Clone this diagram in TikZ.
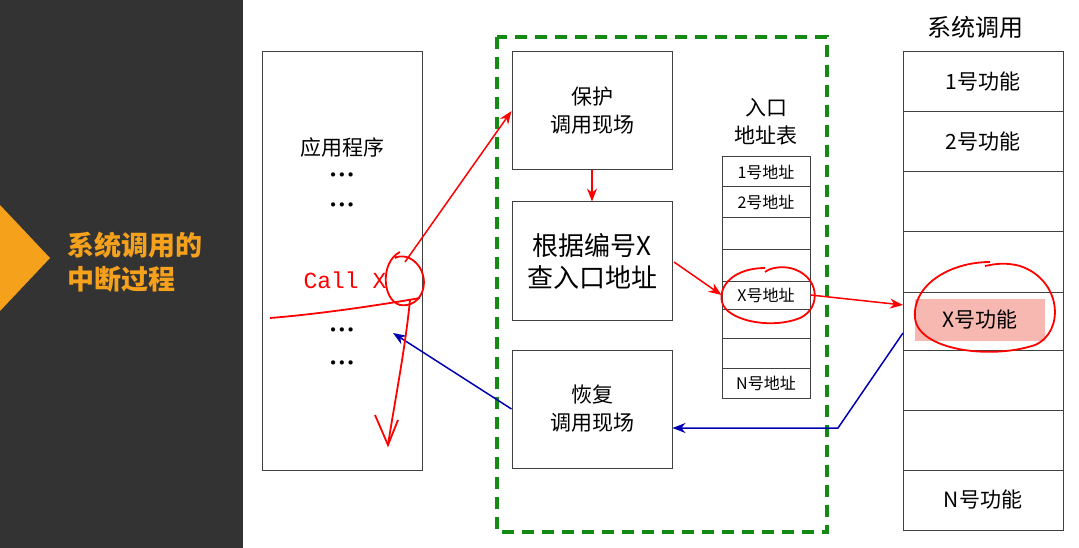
\documentclass[tikz,border=0pt]{standalone}
\usepackage{fontspec}
\setmainfont{Liberation Serif}
\newfontfamily\cjk{Noto Sans CJK SC}
\newfontfamily\mono{Liberation Mono}
\usetikzlibrary{arrows.meta}
\definecolor{darkbg}{HTML}{333333}
\definecolor{orng}{HTML}{F5A11C}
\definecolor{gdash}{HTML}{138A13}
\definecolor{pinkhl}{HTML}{F6B8B0}
\tikzset{
 bx/.style={draw=black!75,line width=1pt,fill=white},
 lbl/.style={font=\cjk\fontsize{21}{28}\selectfont,align=center},
 slbl/.style={font=\cjk\fontsize{16}{19}\selectfont},
 redar/.style={draw=red,line width=1.5pt,-{Stealth[length=13pt,width=10pt]}},
 bluar/.style={draw=blue!70!black,line width=1.5pt,-{Stealth[length=13pt,width=10pt]}},
 hand/.style={draw=red,line width=1.8pt},
 dots/.style={font=\fontsize{26}{26}\selectfont\bfseries},
}
\begin{document}
\begin{tikzpicture}[x=1pt,y=-1pt]
\useasboundingbox (0,0) rectangle (1079,548);
\fill[darkbg] (0,0) rectangle (243,548);
\fill[orng] (0,205) -- (50,258) -- (0,311) -- cycle;
\node[font=\cjk\bfseries\fontsize{27}{34}\selectfont,text=orng,align=left,anchor=west] (title) at (64,262) {系统调用的\\中断过程};
% app
\node[bx,minimum width=160pt,minimum height=418pt] (app) at (342,261) {};
\node[lbl] (appt) at (342,148) {应用程序};
\node[dots] (d1) at (342,178) {···};
\node[dots] (d2) at (342,208) {···};
\node[font=\mono\fontsize{23}{26}\selectfont,text=red] (call) at (345,280) {Call X};
\node[dots] (d3) at (342,333) {···};
\node[dots] (d4) at (342,366) {···};
% green dashed
\draw[gdash,line width=4pt,dash pattern=on 12pt off 8pt] (497,37) rectangle (827,532);
\node[bx,minimum width=160pt,minimum height=118pt,lbl] (prot) at (592,111) {保护\\调用现场};
\node[bx,minimum width=160pt,minimum height=118pt,font=\cjk\fontsize{26}{32}\selectfont,align=center] (look) at (592,261) {根据编号X\\查入口地址};
\node[bx,minimum width=160pt,minimum height=118pt,lbl] (rest) at (592,409) {恢复\\调用现场};
% entry table
\node[lbl] (tt) at (766,122) {入口\\地址表};
\foreach \a/\b/\t [count=\i] in {157/187/1号地址,187/218/2号地址,218/250/,250/281/,281/309/X号地址,309/338/,338/368/,368/398/N号地址}{
 \node[bx,minimum width=88pt,minimum height={\b-\a},inner sep=0pt,slbl] (e\i) at (766,{(\a+\b)/2}) {\t};
}
% system call column
\node[font=\cjk\fontsize{24}{28}\selectfont] (sct) at (975,27) {系统调用};
\foreach \a/\b/\t [count=\i] in {52/112/1号功能,112/172/2号功能,172/232/,232/292/,292/350/,350/410/,410/470/,470/530/N号功能}{
 \node[bx,minimum width=160pt,minimum height={\b-\a},inner sep=0pt,lbl] (s\i) at (983,{(\a+\b)/2}) {\t};
}
\node[fill=pinkhl,minimum width=130pt,minimum height=42pt,lbl] (xf) at (980,320) {X号功能};
% arrows
\coordinate (cx) at (405,262);
\draw[redar] (cx) -- (prot.west);
\draw[redar] (prot.south) -- (look.north);
\draw[redar] (674,262) -- (e5.west);
\draw[redar] (e5.east) -- (903,305);
\coordinate (bb) at (838,428);
\draw[bluar] (903,333) -- (bb) -- (rest.east |- bb);
\coordinate (bt) at (393,333);
\draw[bluar] (rest.west) -- (bt);
% hand drawn
\draw[hand] (400,252) .. controls (380,262) and (382,300) .. (400,305) .. controls (420,308) and (430,285) .. (420,268) .. controls (412,255) and (400,255) .. (395,258);
\draw[hand] (270,318) .. controls (320,314) and (380,305) .. (420,298);
\draw[hand] (410,300) .. controls (405,350) and (395,400) .. (388,445);
\draw[hand] (375,415) -- (388,445) -- (398,420);
\draw[hand] (765,268) .. controls (735,268) and (718,285) .. (722,302) .. controls (726,320) and (770,330) .. (800,318) .. controls (822,308) and (820,275) .. (790,268) .. controls (780,266) and (770,268) .. (765,272);
\draw[hand] (990,262) .. controls (950,262) and (912,285) .. (915,318) .. controls (918,350) and (990,360) .. (1035,345) .. controls (1065,332) and (1062,280) .. (1020,266) .. controls (1005,262) and (995,264) .. (985,266);
\end{tikzpicture}
\end{document}
